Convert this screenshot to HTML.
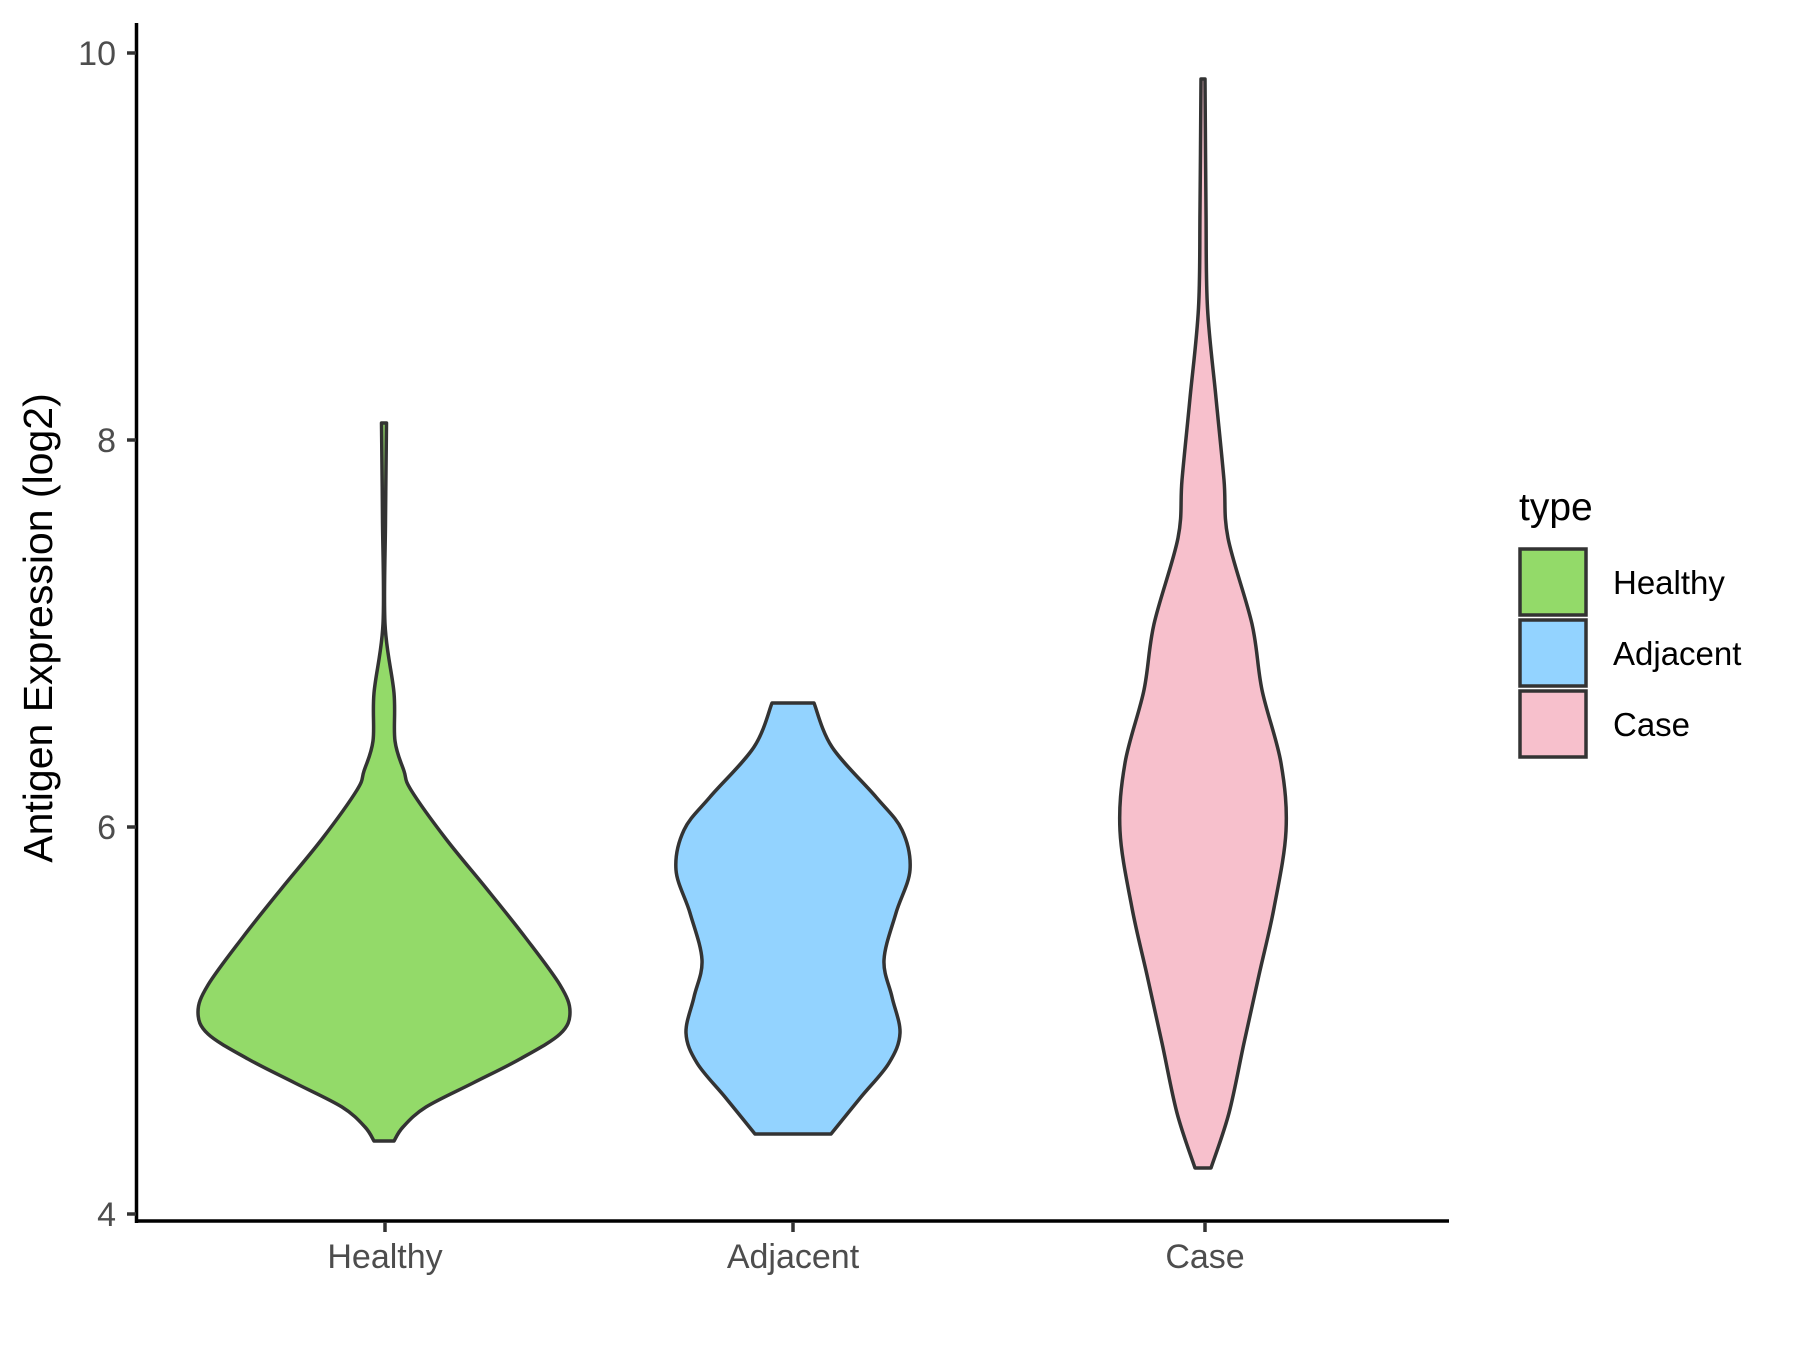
<!DOCTYPE html>
<html><head><meta charset="utf-8"><style>
html,body{margin:0;padding:0;background:#fff;}
svg{display:block;}
text{font-family:"Liberation Sans",Arial,sans-serif;}
</style></head><body>
<svg id="s" width="1800" height="1350" viewBox="0 0 1800 1350" xmlns="http://www.w3.org/2000/svg">
<rect width="1800" height="1350" fill="#fff"/>
<path id="v1" fill="#93DA69" stroke="#333" stroke-width="3.5" stroke-linejoin="round"/>
<path id="v2" fill="#93D3FF" stroke="#333" stroke-width="3.5" stroke-linejoin="round"/>
<path id="v3" fill="#F7C0CC" stroke="#333" stroke-width="3.5" stroke-linejoin="round"/>
<line x1="136.5" y1="23" x2="136.5" y2="1223" stroke="#000" stroke-width="3.5"/>
<line x1="135" y1="1221" x2="1449" y2="1221" stroke="#000" stroke-width="3.5"/>
<g stroke="#333" stroke-width="3.5">
<line x1="127" y1="53" x2="136" y2="53"/><line x1="127" y1="440" x2="136" y2="440"/>
<line x1="127" y1="827" x2="136" y2="827"/><line x1="127" y1="1214" x2="136" y2="1214"/>
<line x1="385" y1="1222" x2="385" y2="1232"/><line x1="793" y1="1222" x2="793" y2="1232"/><line x1="1205" y1="1222" x2="1205" y2="1232"/>
</g>
<g fill="#4d4d4d" font-size="34" text-anchor="end">
<text x="116" y="65">10</text><text x="116" y="452">8</text><text x="116" y="839">6</text><text x="116" y="1226">4</text>
</g>
<g fill="#4d4d4d" font-size="34" text-anchor="middle">
<text x="385" y="1268">Healthy</text><text x="793" y="1268">Adjacent</text><text x="1205" y="1268">Case</text>
</g>
<text transform="translate(52,628) rotate(-90)" font-size="41" text-anchor="middle" fill="#000">Antigen Expression (log2)</text>
<text x="1519" y="520" font-size="39" fill="#000">type</text>
<g stroke="#333" stroke-width="3.5">
<rect x="1520" y="549" width="66" height="66" fill="#93DA69"/>
<rect x="1520" y="620" width="66" height="66" fill="#93D3FF"/>
<rect x="1520" y="691" width="66" height="66" fill="#F7C0CC"/>
</g>
<g font-size="33" fill="#000">
<text x="1613" y="594">Healthy</text><text x="1613" y="665">Adjacent</text><text x="1613" y="736">Case</text>
</g>
</svg>
<script>
function build(cx,pts){
 var right=pts.map(p=>[cx+p[1],p[0]]);
 var left=pts.slice().reverse().map(p=>[cx-p[1],p[0]]);
 function cr(a){var d="";for(var i=0;i<a.length-1;i++){var p0=a[Math.max(i-1,0)],p1=a[i],p2=a[i+1],p3=a[Math.min(i+2,a.length-1)];
  var c1=[p1[0]+(p2[0]-p0[0])/6,p1[1]+(p2[1]-p0[1])/6],c2=[p2[0]-(p3[0]-p1[0])/6,p2[1]-(p3[1]-p1[1])/6];
  d+=" C"+c1[0].toFixed(1)+","+c1[1].toFixed(1)+" "+c2[0].toFixed(1)+","+c2[1].toFixed(1)+" "+p2[0].toFixed(1)+","+p2[1].toFixed(1);}return d;}
 return "M"+left[left.length-1][0]+","+left[left.length-1][1]+" L"+right[0][0]+","+right[0][1]+cr(right)+" L"+left[0][0]+","+left[0][1]+cr(left)+" Z";
}
document.getElementById("v1").setAttribute("d",build(384,[[423,2.5],[520,1.5],[624,1],[693,10],[741,11],[771,20],[790,27],[839,62],[888,102],[937,141],[985,176],[1012,186],[1034,176],[1059,136],[1083,89],[1107,42],[1127,19],[1141,10]]));
document.getElementById("v2").setAttribute("d",build(793,[[703,21],[747,39],[797,83],[830,109],[870,117],[913,103],[960,91],[997,99],[1033,107],[1063,96],[1097,68],[1134,38]]));
document.getElementById("v3").setAttribute("d",build(1203,[[79,2],[210,3],[308,4.5],[398,13],[480,21],[538,25],[624,49],[690,59],[763,78],[831,83],[908,71],[975,56],[1043,41],[1113,26],[1168,8]]));
</script>
</body></html>
